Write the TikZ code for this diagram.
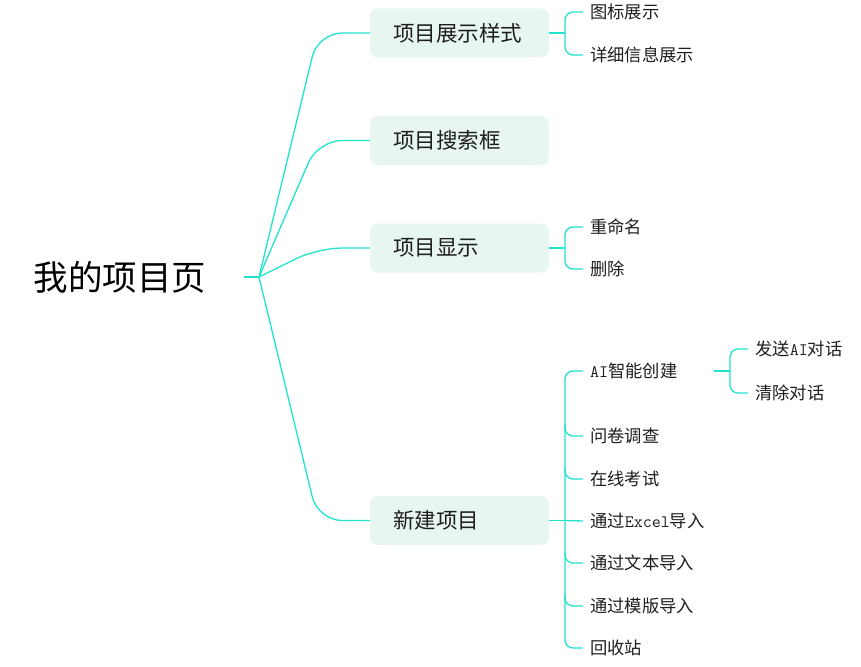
\documentclass[tikz,border=0pt]{standalone}
\usepackage{fontspec}
\setmainfont{Noto Sans CJK SC}
\definecolor{linec}{RGB}{32,228,205}
\definecolor{boxc}{RGB}{232,246,240}
\definecolor{txtc}{RGB}{30,30,30}
\newcommand{\ml}[1]{{\ttfamily\fontsize{17.5}{18}\selectfont #1}}
\tikzset{
  conn/.style={draw=linec, line width=1.3pt},
  l1box/.style={fill=boxc, rounded corners=8pt, minimum height=49pt, text width=133pt,
     inner xsep=23pt, inner ysep=0pt, align=left, text=txtc,
     font=\fontsize{21.5}{23}\selectfont},
  l2txt/.style={anchor=west, inner sep=0pt, text=txtc, font=\fontsize{17.3}{19}\selectfont},
  roottxt/.style={inner sep=0pt, text=black, font=\fontsize{34.5}{38}\selectfont}
}
\begin{document}
\begin{tikzpicture}[x=1pt,y=-1pt]
\useasboundingbox (0,0) rectangle (861,666);
% root
\node[roottxt] (root) at (120,277) {我的项目页};
\coordinate (rootL) at (244,277);
\coordinate (rootR) at (259,277);
\draw[conn] (rootL) -- (rootR);
% level 1
\node[l1box] (b1) at (459.5,33) {项目展示样式};
\node[l1box] (b2) at (459.5,140.5) {项目搜索框};
\node[l1box] (b3) at (459.5,248) {项目显示};
\node[l1box] (b4) at (459.5,520.5) {新建项目};
\foreach \b in {b1,b2,b3,b4}{
  \draw[conn, rounded corners=24pt] (rootR) -- (318,0 |- \b.west) -- (\b.west);
}
% level 2 of b1
\node[l2txt] (s11) at (590,12) {图标展示};
\node[l2txt] (s12) at (590,55) {详细信息展示};
\coordinate (j1) at (565,33);
\draw[conn] (b1.east) -- (j1);
\draw[conn, rounded corners=8pt] ([xshift=-7pt]s11.west) -| (j1) |- ([xshift=-7pt]s12.west);
% level 2 of b3
\node[l2txt] (s31) at (590,227) {重命名};
\node[l2txt] (s32) at (590,269) {删除};
\coordinate (j3) at (565,248);
\draw[conn] (b3.east) -- (j3);
\draw[conn, rounded corners=8pt] ([xshift=-7pt]s31.west) -| (j3) |- ([xshift=-7pt]s32.west);
% level 2 of b4
\node[l2txt] (s41) at (590,371) {\ml{AI}智能创建};
\node[l2txt] (s42) at (590,436) {问卷调查};
\node[l2txt] (s43) at (590,479) {在线考试};
\node[l2txt] (s44) at (590,521) {通过\ml{Excel}导入};
\node[l2txt] (s45) at (590,563) {通过文本导入};
\node[l2txt] (s46) at (590,606) {通过模版导入};
\node[l2txt] (s47) at (590,648) {回收站};
\coordinate (j4) at (565,520.5);
\draw[conn] (b4.east) -- (j4);
\draw[conn] (j4) -- ([xshift=-7pt]s44.west);
\draw[conn, rounded corners=8pt] ([xshift=-7pt]s41.west) -| (j4) |- ([xshift=-7pt]s47.west);
\foreach \s in {s42,s43,s45,s46}{
  \draw[conn, rounded corners=8pt] (565,0 |- \s.west) ++(0,-12) |- ([xshift=-7pt]\s.west);
}
% level 3 of AI
\node[l2txt] (t1) at (755,349) {发送\ml{AI}对话};
\node[l2txt] (t2) at (755,393) {清除对话};
\coordinate (ja0) at (714,371);
\coordinate (ja) at (730,371);
\draw[conn] (ja0) -- (ja);
\draw[conn, rounded corners=8pt] ([xshift=-7pt]t1.west) -| (ja) |- ([xshift=-7pt]t2.west);
\end{tikzpicture}
\end{document}
